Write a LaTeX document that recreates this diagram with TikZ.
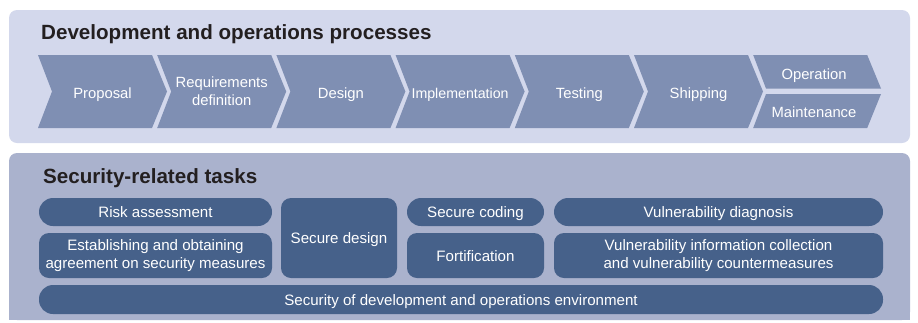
\documentclass[tikz,border=0pt]{standalone}
\usepackage{fontspec}
\setmainfont{Liberation Sans}
\definecolor{toppanel}{HTML}{D3D8EC}
\definecolor{botpanel}{HTML}{AAB2CD}
\definecolor{chevfill}{HTML}{7F8FB3}
\definecolor{boxblue}{HTML}{46618A}
\definecolor{titlecol}{HTML}{231F20}
\newcommand\chevshape[1]{\fill[chevfill] (#1,55) -- ++(114,0) -- ++(15,36.5) -- ++(-15,36.5) -- ++(-114,0) -- ++(14,-36.5) -- cycle;}
\tikzset{
  paneltitle/.style={anchor=base west, inner sep=0, text=titlecol, font=\bfseries\fontsize{20.6}{24}\selectfont},
  chevtext/.style={text=white, align=center, inner sep=0, font=\fontsize{14.8}{18}\selectfont},
  darkbox/.style={fill=boxblue, text=white, align=center, inner sep=0, rounded corners=10pt, font=\fontsize{15.1}{17.5}\selectfont},
  pill/.style={darkbox, rounded corners=14pt},
  oneline/.style={text height=11pt, text depth=0pt}
}
\begin{document}
\begin{tikzpicture}[x=1pt,y=-1pt]
\useasboundingbox (0,0) rectangle (918,322);
% panels
\fill[toppanel, rounded corners=8pt] (9,10) rectangle (910,143);
\fill[botpanel, rounded corners=8pt] (9,153) rectangle (910,320);
\fill[botpanel] (9,300) rectangle (910,320);
% titles
\node[paneltitle] (t1) at (41,39) {Development and operations processes};
\node[paneltitle] (t2) at (43,183) {Security-related tasks};
% chevrons
\chevshape{38}
\chevshape{157.2}
\chevshape{276.4}
\chevshape{395.6}
\chevshape{514.8}
\chevshape{634}
\fill[chevfill] (753.2,55) -- (867.2,55) -- (881,88.5) -- (766,88.5) -- cycle;
\fill[chevfill] (766,94) -- (881,94) -- (867.2,128) -- (753.2,128) -- cycle;
\node[chevtext, oneline] (prop) at (102.5,92.5) {Proposal};
\node[chevtext] (req) at (221.7,91.5) {Requirements\\definition};
\node[chevtext, oneline] (des) at (340.9,92.5) {Design};
\node[chevtext, oneline, font=\fontsize{14.2}{18}\selectfont] (impl) at (460.1,92.5) {Implementation};
\node[chevtext, oneline] (test) at (579.3,92.5) {Testing};
\node[chevtext, oneline] (ship) at (698.5,92.5) {Shipping};
\node[chevtext, oneline] (oper) at (814,74) {Operation};
\node[chevtext, oneline] (maint) at (814,111.5) {Maintenance};
% security tasks
\node[pill, oneline, minimum width=233pt, minimum height=28pt] (risk) at (155.5,212) {Risk assessment};
\node[darkbox, minimum width=233pt, minimum height=45pt] (estab) at (155.5,255.5) {Establishing and obtaining\\agreement on security measures};
\node[darkbox, oneline, minimum width=116pt, minimum height=80pt] (sdes) at (339,238) {Secure design};
\node[pill, oneline, minimum width=137pt, minimum height=28pt] (scod) at (475.5,212) {Secure coding};
\node[darkbox, oneline, minimum width=137pt, minimum height=45pt] (fort) at (475.5,255.5) {Fortification};
\node[pill, oneline, minimum width=329pt, minimum height=28pt] (vdiag) at (718.5,212) {Vulnerability diagnosis};
\node[darkbox, minimum width=329pt, minimum height=45pt] (vinfo) at (718.5,255.5) {Vulnerability information collection\\and vulnerability countermeasures};
\node[pill, oneline, minimum width=844pt, minimum height=29pt] (env) at (461,299.5) {Security of development and operations environment};
\end{tikzpicture}
\end{document}
